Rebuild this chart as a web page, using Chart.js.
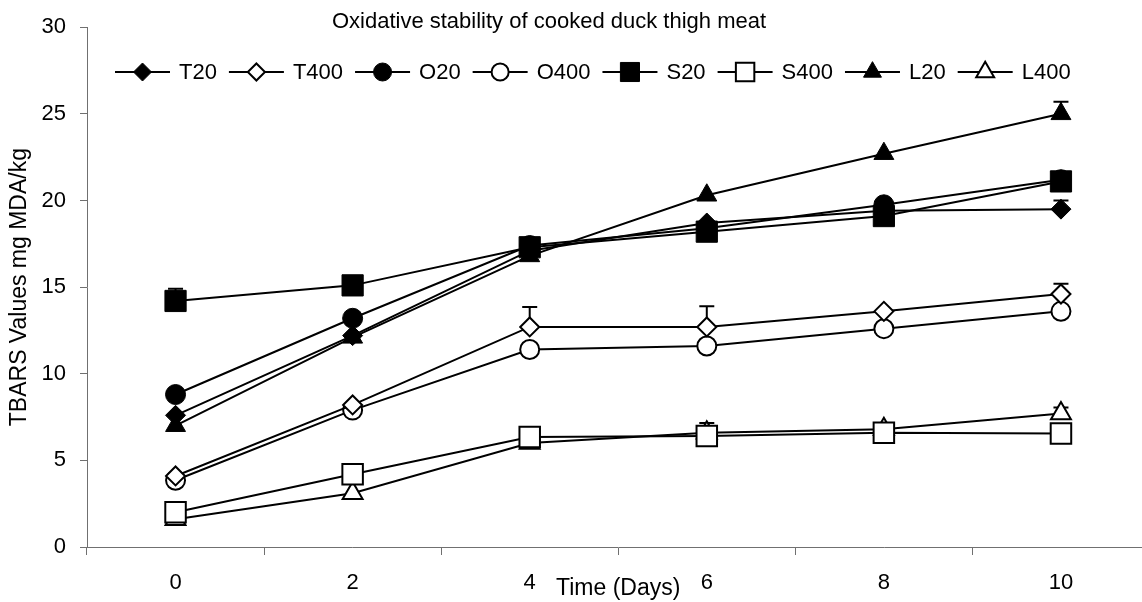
<!DOCTYPE html>
<html>
<head>
<meta charset="utf-8">
<script src="https://cdn.jsdelivr.net/npm/chart.js@4/dist/chart.umd.min.js"></script>
<style>
  html, body { margin: 0; padding: 0; background: #fff; overflow: hidden; }
  #wrap { width: 1166px; height: 602px; }
</style>
</head>
<body>
<div id="wrap"><canvas id="tbarsChart"></canvas></div>
<script>
const days = ['0', '2', '4', '6', '8', '10'];
const yTicks = [0, 5, 10, 15, 20, 25, 30];

const t20 = [7.6, 12.2, 17.1, 18.7, 19.4, 19.5];
const t400 = [4.1, 8.2, 12.7, 12.7, 13.6, 14.6];
const o20 = [8.8, 13.2, 17.4, 18.4, 19.75, 21.2];
const o400 = [3.85, 7.9, 11.4, 11.6, 12.6, 13.6];
const s20 = [14.2, 15.1, 17.3, 18.2, 19.1, 21.1];
const s400 = [2.0, 4.2, 6.35, 6.4, 6.6, 6.55];
const l20 = [7.0, 12.1, 16.8, 20.3, 22.7, 25.0];
const l400 = [1.6, 3.1, 6.0, 6.6, 6.8, 7.7];

// upper error bars (only those visible in the figure)
const t20Err = [0, 0, 0, 0, 0, 0.5];
const t400Err = [0, 0, 1.15, 1.2, 0, 0.6];
const s20Err = [0.7, 0, 0, 0, 0, 0];
const l20Err = [0, 0, 0, 0, 0, 0.7];
const l400Err = [0, 0, 0, 0.55, 0, 0.35];

const FONT = "'Liberation Sans', Arial, sans-serif";
const AXIS = '#707070';

function series(label, data, err, style, radius, filled) {
    return {
        label: label,
        data: data,
        err: err,
        borderColor: '#000',
        borderWidth: 2,
        tension: 0,
        fill: false,
        pointStyle: style,
        pointRadius: radius,
        pointHoverRadius: radius,
        pointBackgroundColor: filled ? '#000' : '#fff',
        pointBorderColor: '#000',
        pointBorderWidth: filled ? 1 : 2
    };
}

const errorBars = {
    id: 'errorBars',
    beforeDatasetsDraw(chart) {
        const ctx = chart.ctx;
        const y = chart.scales.y;
        ctx.save();
        ctx.strokeStyle = '#000';
        ctx.lineWidth = 2;
        chart.data.datasets.forEach((ds, i) => {
            if (!ds.err) return;
            const meta = chart.getDatasetMeta(i);
            ds.err.forEach((e, j) => {
                if (!e) return;
                const px = meta.data[j].x;
                const y0 = y.getPixelForValue(ds.data[j]);
                const y1 = y.getPixelForValue(ds.data[j] + e);
                ctx.beginPath();
                ctx.moveTo(px, y0);
                ctx.lineTo(px, y1);
                ctx.moveTo(px - 7.5, y1);
                ctx.lineTo(px + 7.5, y1);
                ctx.stroke();
            });
        });
        ctx.restore();
    }
};

// title and legend sit inside the plot area in the original
const header = {
    id: 'header',
    afterDraw(chart) {
        const ctx = chart.ctx;
        ctx.save();
        ctx.fillStyle = '#000';
        ctx.font = '22px ' + FONT;
        ctx.textAlign = 'center';
        ctx.textBaseline = 'middle';
        ctx.fillText('Oxidative stability of cooked duck thigh meat', 549, 22);

        const ly = 72;
        let x = 115;
        ctx.textAlign = 'left';
        chart.data.datasets.forEach(ds => {
            ctx.strokeStyle = '#000';
            ctx.lineWidth = 2;
            ctx.beginPath();
            ctx.moveTo(x, ly);
            ctx.lineTo(x + 55, ly);
            ctx.stroke();
            ctx.fillStyle = ds.pointBackgroundColor;
            ctx.lineWidth = ds.pointBorderWidth;
            Chart.helpers.drawPoint(ctx, {
                pointStyle: ds.pointStyle,
                radius: ds.pointRadius * 0.9,
                borderWidth: ds.pointBorderWidth,
                rotation: 0
            }, x + 27.5, ly);
            ctx.fillStyle = '#000';
            ctx.fillText(ds.label, x + 64, ly + 1);
            x += 64 + ctx.measureText(ds.label).width + 12;
        });
        ctx.restore();
    }
};

const ctx = document.getElementById('tbarsChart').getContext('2d');
new Chart(ctx, {
    type: 'line',
    data: {
        labels: days,
        datasets: [
            series('T20', t20, t20Err, 'rectRot', 10, true),
            series('T400', t400, t400Err, 'rectRot', 9.5, false),
            series('O20', o20, null, 'circle', 10, true),
            series('O400', o400, null, 'circle', 9.5, false),
            series('S20', s20, s20Err, 'rect', 15, true),
            series('S400', s400, null, 'rect', 14.5, false),
            series('L20', l20, l20Err, 'triangle', 11.5, true),
            series('L400', l400, l400Err, 'triangle', 11.5, false)
        ]
    },
    options: {
        responsive: true,
        maintainAspectRatio: false,
        animation: false,
        events: [],
        layout: { padding: { top: 27, right: 1, bottom: 0, left: 0 } },
        plugins: {
            legend: { display: false },
            title: { display: false },
            tooltip: { enabled: false }
        },
        scales: {
            x: {
                type: 'category',
                offset: true,
                afterFit: s => { s.height = 55; },
                grid: { offset: true, drawOnChartArea: false, tickLength: 8, color: AXIS },
                border: { color: AXIS, width: 1 },
                ticks: { color: '#000', padding: 15, font: { family: FONT, size: 22 } },
                title: {
                    display: true,
                    text: 'Time (Days)',
                    color: '#000',
                    padding: { top: 0, bottom: 0 },
                    font: { family: FONT, size: 23 }
                }
            },
            y: {
                min: 0,
                max: 30,
                afterFit: s => { s.width = 87; },
                afterBuildTicks: s => { s.ticks = yTicks.map(v => ({ value: v })); },
                grid: { drawOnChartArea: false, tickLength: 7, color: AXIS },
                border: { color: AXIS, width: 1 },
                ticks: { color: '#000', padding: 14, font: { family: FONT, size: 22 } },
                title: {
                    display: true,
                    text: 'TBARS Values mg MDA/kg',
                    color: '#000',
                    padding: { top: 6, bottom: 0 },
                    font: { family: FONT, size: 23 }
                }
            }
        }
    },
    plugins: [errorBars, header]
});
</script>
</body>
</html>
